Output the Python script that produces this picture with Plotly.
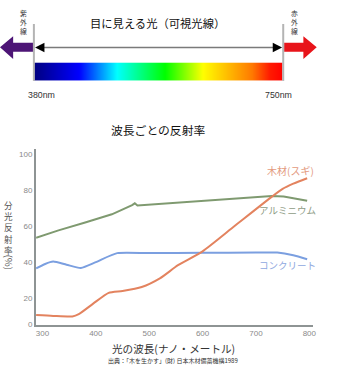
import plotly.graph_objects as go

# ---------------- data ----------------
wavelength_alu = [288, 330, 380, 430, 468, 473, 478, 520, 600, 680, 730, 752, 796]
reflect_alu = [53.5, 57.6, 62.0, 66.5, 71.6, 72.6, 71.4, 72.3, 74.2, 75.9, 76.7, 76.4, 74.0]

wavelength_conc = [288, 305, 320, 345, 372, 400, 440, 500, 600, 700, 740, 770, 796]
reflect_conc = [36.5, 39.0, 40.3, 38.6, 36.8, 40.0, 45.0, 45.0, 45.2, 45.3, 45.3, 43.8, 41.6]

wavelength_wood = [288, 320, 356, 368, 395, 424, 450, 486, 520, 554, 600, 660, 730, 750, 770, 796]
reflect_wood = [10.7, 10.2, 9.9, 11.2, 17.0, 23.0, 24.0, 26.2, 31.0, 38.3, 46.0, 60.0, 76.3, 80.6, 83.5, 86.5]

x_ticks = [300, 400, 500, 600, 700, 800]
y_tickvals = [5.5, 20, 40, 60, 80, 100]
y_ticktext = ["0", "20", "40", "60", "80", "100"]

spectrum_nm = [380, 447, 503, 575, 631, 704, 730, 750]
spectrum_colors = ["#000080", "#0000ff", "#00ffff", "#00ff00", "#ffff00", "#ff7a00", "#ff1a00", "#ff0000"]

# ---------------- helpers ----------------
W, H = 339, 372


def px(x):
    return x / W


def py(y):
    return 1 - y / H


def poly(points):
    return "M " + " L ".join(f"{px(a):.5f},{py(b):.5f}" for a, b in points) + " Z"


JP = "Noto Sans CJK JP"
LAT = "Liberation Sans"

fig = go.Figure()

# reflectance lines
fig.add_trace(go.Scatter(x=wavelength_alu, y=reflect_alu, mode="lines",
                         line=dict(color="#7f9a70", width=2), hoverinfo="skip"))
fig.add_trace(go.Scatter(x=wavelength_conc, y=reflect_conc, mode="lines",
                         line=dict(color="#7b9fe0", width=2, shape="spline", smoothing=0.6),
                         hoverinfo="skip"))
fig.add_trace(go.Scatter(x=wavelength_wood, y=reflect_wood, mode="lines",
                         line=dict(color="#e3835f", width=2, shape="spline", smoothing=0.6),
                         hoverinfo="skip"))

# spectrum bar
span = spectrum_nm[-1] - spectrum_nm[0]
colorscale = [[(n - spectrum_nm[0]) / span, c] for n, c in zip(spectrum_nm, spectrum_colors)]
fig.add_trace(go.Heatmap(x=spectrum_nm, y=[0, 1], z=[spectrum_nm, spectrum_nm],
                         colorscale=colorscale, zmin=spectrum_nm[0], zmax=spectrum_nm[-1],
                         zsmooth="best", showscale=False, hoverinfo="skip",
                         xaxis="x2", yaxis="y2"))

axis_col = "#8e9494"
tick_font = dict(family=LAT, size=8, color="#8a8a8a")

fig.update_layout(
    width=W, height=H,
    margin=dict(l=0, r=0, t=0, b=0),
    paper_bgcolor="white", plot_bgcolor="white",
    showlegend=False,
    xaxis=dict(domain=[px(36.5), px(316.5)], range=[288, 806.5],
               tickvals=x_ticks, showgrid=False, zeroline=False,
               showline=True, linecolor=axis_col, linewidth=2,
               ticks="", tickfont=tick_font, anchor="y"),
    yaxis=dict(domain=[py(329), py(151)], range=[5.41, 102.7],
               tickvals=y_tickvals, ticktext=y_ticktext, showgrid=False, zeroline=False,
               showline=True, linecolor=axis_col, linewidth=2,
               ticks="", tickfont=tick_font, anchor="x"),
    xaxis2=dict(domain=[px(34), px(286)], range=[spectrum_nm[0], spectrum_nm[-1]],
                visible=False, anchor="y2"),
    yaxis2=dict(domain=[py(82), py(63.3)], range=[0, 1], visible=False, anchor="x2"),
)

shapes = []
# purple (UV) arrow
shapes.append(dict(type="path", xref="paper", yref="paper",
                   path=poly([(0, 48), (13.3, 36.7), (13.3, 43.3), (33.5, 43.3),
                              (33.5, 52.5), (13.3, 52.5), (13.3, 59.8)]),
                   fillcolor="#4d1576", line=dict(width=0)))
# red (IR) arrow
shapes.append(dict(type="path", xref="paper", yref="paper",
                   path=poly([(287.5, 43.3), (307, 43.3), (307, 36.7), (320.5, 48),
                              (307, 59.8), (307, 52.5), (287.5, 52.5)]),
                   fillcolor="#e8141a", line=dict(width=0)))
# vertical boundary lines
for xv in (34.3, 286.6):
    shapes.append(dict(type="line", xref="paper", yref="paper",
                       x0=px(xv), x1=px(xv), y0=py(24.3), y1=py(82),
                       line=dict(color="#b4b4b4", width=2)))
# double arrow line
shapes.append(dict(type="line", xref="paper", yref="paper",
                   x0=px(44), x1=px(277), y0=py(48.2), y1=py(48.2),
                   line=dict(color="#7a7a7a", width=1.6)))
shapes.append(dict(type="path", xref="paper", yref="paper",
                   path=poly([(35.5, 48.2), (45, 43.3), (45, 53)]),
                   fillcolor="#000000", line=dict(width=0)))
shapes.append(dict(type="path", xref="paper", yref="paper",
                   path=poly([(285.5, 48.2), (276, 43.3), (276, 53)]),
                   fillcolor="#000000", line=dict(width=0)))
fig.update_layout(shapes=shapes)

ann = []


def text(t, x, y, size, color="#222", family=JP, xanchor="center", angle=0):
    ann.append(dict(text=t, x=px(x), y=py(y), xref="paper", yref="paper",
                    xanchor=xanchor, yanchor="middle", showarrow=False, textangle=angle,
                    font=dict(family=family, size=size, color=color)))


text("目に見える光（可視光線）", 159.5, 23.5, 11.3, "#111")
text("紫<br>外<br>線", 23.7, 22.2, 6.8, "#333")
text("赤<br>外<br>線", 297.7, 22.2, 6.8, "#333")
text("380nm", 41.7, 96.7, 8.8, "#333", LAT)
text("750nm", 281.7, 96.7, 8.8, "#333", LAT)

text("波長ごとの反射率", 159.5, 131.5, 11.8, "#111")
text("分<br>光<br>反<br>射<br>率", 8.7, 231, 8.6, "#555")
text("(%)", 8.7, 266, 9.5, "#555", JP, "center", 90)
text("光の波長(ナノ・メートル)", 175.5, 353, 10.6, "#333")
text("出典：「木を生かす」(財) 日本木材備蓄機構1989", 175, 365.7, 6, "#333")

text("木材(スギ)", 320, 172.7, 10, "#e39a80", JP, "right")
text("アルミニウム", 322, 212.7, 9.5, "#8e9c86", JP, "right")
text("コンクリート", 322, 269, 9.5, "#8fa8e0", JP, "right")

fig.update_layout(annotations=ann)

fig.write_html("out.html")
